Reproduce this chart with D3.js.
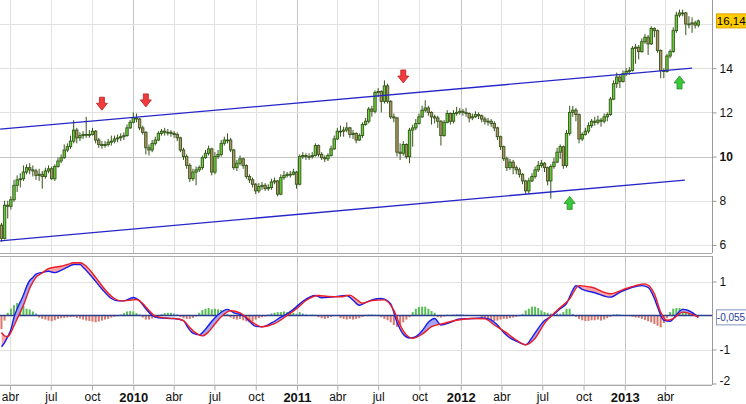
<!DOCTYPE html>
<html><head><meta charset="utf-8">
<script src="https://cdnjs.cloudflare.com/ajax/libs/d3/7.8.5/d3.min.js"></script>
<style>body{margin:0;background:#fff}svg{display:block;font-family:"Liberation Sans",Arial,sans-serif}</style>
</head><body><svg id="c" width="746" height="404"></svg>
<script>
// ---------- DATA (weekly candles, first week starting 13 Mar 2009) ----------
const startDate = new Date(2009, 2, 13);
const opens = [6.9,6.3,7.8,7.75,8.05,8.7,8.95,9.0,9.3,9.5,
9.4,9.35,9.15,9.2,9.1,9.35,9.45,9.0,9.55,9.8,
9.95,10.3,10.45,10.7,11.2,10.85,10.95,11.0,11.0,11.0,
11.15,10.75,10.55,10.5,10.55,10.65,10.7,10.8,10.85,10.9,
10.95,11.3,11.55,11.75,11.7,11.3,11.1,10.4,10.3,10.6,
10.75,11.05,11.15,11.1,11.1,11.05,11.0,10.85,10.3,10.0,
9.6,9.0,9.3,9.4,9.5,9.95,10.15,10.35,9.3,10.0,
10.1,10.6,10.75,10.75,10.3,9.5,9.7,9.9,9.6,9.1,
8.95,8.75,8.45,8.65,8.7,8.55,8.6,8.85,8.9,8.3,
9.05,9.15,9.2,9.2,9.3,8.75,10.0,10.05,10.0,10.0,
10.05,10.5,10.1,9.95,9.9,10.05,10.35,10.8,11.15,11.15,
11.2,11.3,11.0,11.05,10.75,10.95,11.45,11.6,12.15,12.05,
12.9,12.95,12.5,13.2,12.5,11.8,11.75,10.2,10.15,10.55,
10.0,11.2,11.3,11.5,11.8,12.1,12.2,12.0,11.8,11.75,
11.6,10.95,11.55,11.95,11.6,11.95,12.0,12.05,12.0,11.95,
11.75,11.8,11.9,11.85,11.7,11.6,11.6,11.5,11.3,10.9,
10.45,9.9,9.5,9.75,9.5,9.4,9.2,8.9,8.45,8.9,
9.1,9.4,9.6,9.7,9.5,8.9,9.55,9.75,10.2,10.45,
9.6,11.05,12.0,12.1,11.9,10.8,11.0,11.15,11.4,11.6,
11.55,11.65,11.6,11.8,11.9,12.6,13.3,13.6,13.4,13.75,
13.85,13.9,14.9,14.95,14.75,15.2,15.4,15.1,15.8,15.7,
14.8,13.9,13.85,14.55,14.75,15.7,16.4,16.5,16.5,16.0,
16.0,16.05,15.95];
const closes = [6.3,7.8,7.75,8.05,8.7,8.95,9.0,9.3,9.5,9.4,
9.35,9.15,9.2,9.1,9.35,9.45,9.0,9.55,9.8,9.95,
10.3,10.45,10.7,11.2,10.85,10.95,11.0,11.0,11.0,11.15,
10.75,10.55,10.5,10.55,10.65,10.7,10.8,10.85,10.9,10.95,
11.3,11.55,11.75,11.7,11.3,11.1,10.4,10.3,10.6,10.75,
11.05,11.15,11.1,11.1,11.05,11.0,10.85,10.3,10.0,9.6,
9.0,9.3,9.4,9.5,9.95,10.15,10.35,9.3,10.0,10.1,
10.6,10.75,10.75,10.3,9.5,9.7,9.9,9.6,9.1,8.95,
8.75,8.45,8.65,8.7,8.55,8.6,8.85,8.9,8.3,9.05,
9.15,9.2,9.2,9.3,8.75,10.0,10.05,10.0,10.0,10.05,
10.5,10.1,9.95,9.9,10.05,10.35,10.8,11.15,11.15,11.2,
11.3,11.0,11.05,10.75,10.95,11.45,11.6,12.15,12.05,12.9,
12.95,12.5,13.2,12.5,11.8,11.75,10.2,10.15,10.55,10.0,
11.2,11.3,11.5,11.8,12.1,12.2,12.0,11.8,11.75,11.6,
10.95,11.55,11.95,11.6,11.95,12.0,12.05,12.0,11.95,11.75,
11.8,11.9,11.85,11.7,11.6,11.6,11.5,11.3,10.9,10.45,
9.9,9.5,9.75,9.5,9.4,9.2,8.9,8.45,8.9,9.1,
9.4,9.6,9.7,9.5,8.9,9.55,9.75,10.2,10.45,9.6,
11.05,12.0,12.1,11.9,10.8,11.0,11.15,11.4,11.6,11.55,
11.65,11.6,11.8,11.9,12.6,13.3,13.6,13.4,13.75,13.85,
13.9,14.9,14.95,14.75,15.2,15.4,15.1,15.8,15.7,14.8,
13.9,13.85,14.55,14.75,15.7,16.4,16.5,16.5,16.0,16.0,
16.05,15.95,16.14];
const highs = [7.0,8.0,8.0,8.2,8.95,9.15,9.25,9.6,9.65,9.7,
9.6,9.45,9.45,9.35,9.5,9.6,9.55,9.65,9.95,10.1,
10.55,10.6,10.95,11.65,11.3,11.1,11.15,11.8,11.2,11.3,
11.2,10.85,10.7,10.7,10.8,10.95,10.95,11.0,11.05,11.1,
11.45,11.65,12.0,11.95,11.75,11.4,11.15,10.55,10.75,10.9,
11.15,11.25,11.3,11.25,11.2,11.15,11.1,10.9,10.4,10.1,
9.7,9.45,9.55,9.6,10.05,10.3,10.5,10.4,10.2,10.3,
10.75,10.9,11.05,10.85,10.35,9.85,10.05,9.95,9.65,9.2,
9.05,8.8,8.8,8.85,8.8,8.75,9.0,9.05,8.95,9.2,
9.35,9.3,9.35,9.45,9.35,10.1,10.2,10.15,10.15,10.2,
10.6,10.55,10.2,10.05,10.15,10.5,10.95,11.3,11.4,11.35,
11.55,11.35,11.2,11.1,11.05,11.55,11.75,12.25,12.3,13.0,
13.1,13.0,13.45,13.3,12.55,11.95,11.8,10.6,10.7,10.6,
11.3,11.45,11.7,11.95,12.3,12.55,12.3,12.05,11.9,11.85,
11.65,11.65,12.1,12.0,12.1,12.25,12.2,12.15,12.2,12.0,
11.95,12.05,12.0,11.9,11.8,11.75,11.7,11.6,11.35,10.95,
10.5,10.0,9.9,9.85,9.6,9.5,9.25,8.95,9.05,9.25,
9.55,9.8,9.85,9.75,9.55,9.65,9.95,10.4,10.55,10.5,
11.2,12.3,12.3,12.2,11.95,11.1,11.3,11.55,11.7,11.8,
11.85,11.75,11.95,12.0,12.7,13.45,13.8,13.7,13.9,14.0,
14.05,15.0,15.1,15.05,15.35,15.55,15.5,15.9,15.85,15.75,
14.85,14.0,14.65,14.85,15.85,16.55,16.65,16.65,16.55,16.35,
16.3,16.15,16.2];
const lows = [6.15,6.25,7.2,7.6,7.95,8.4,8.6,8.9,9.2,9.2,
9.1,8.95,8.9,8.55,9.0,9.25,8.95,8.9,9.5,9.7,
9.9,10.2,10.35,10.6,10.6,10.7,10.8,10.85,10.85,10.95,
10.6,10.4,10.35,10.4,10.45,10.5,10.6,10.65,10.7,10.75,
10.9,11.25,11.5,11.55,11.2,11.0,10.1,10.05,10.2,10.5,
10.7,10.95,10.95,10.95,10.9,10.85,10.7,10.2,9.85,9.45,
8.85,8.9,8.7,9.3,9.4,9.9,10.05,9.15,9.2,9.9,
10.0,10.5,10.6,10.2,9.4,9.35,9.6,9.45,9.0,8.8,
8.6,8.3,8.35,8.5,8.45,8.45,8.5,8.75,8.2,8.25,
8.95,9.05,9.05,9.15,8.55,8.7,9.9,9.85,9.85,9.9,
10.0,10.0,9.85,9.75,9.8,10.0,10.3,10.75,10.9,10.9,
11.1,10.85,10.8,10.6,10.7,10.85,11.4,11.5,11.8,11.95,
12.7,12.0,12.4,12.4,11.7,11.55,10.0,9.85,10.05,9.9,
9.7,10.45,11.2,11.45,11.75,12.0,11.85,11.45,11.5,11.3,
10.5,10.9,11.5,11.45,11.5,11.85,11.9,11.85,11.8,11.55,
11.65,11.75,11.7,11.55,11.45,11.4,11.35,11.15,10.75,10.3,
9.8,9.35,9.4,9.2,9.2,9.05,8.75,8.3,8.3,8.85,
9.0,9.3,9.5,9.3,8.7,8.1,9.45,9.7,9.9,9.45,
9.5,10.95,11.8,11.6,10.6,10.7,10.95,11.05,11.3,11.4,
11.45,11.35,11.5,11.6,11.85,12.55,13.1,13.1,13.35,13.65,
13.7,13.85,14.2,14.4,14.7,15.1,14.6,15.05,15.4,14.7,
13.55,13.55,13.8,14.45,14.7,15.6,16.3,16.35,15.5,15.8,
15.6,15.8,15.85];

// MACD (blue) and signal (red) read at these week indices
const macdIdx = [0,1,2,3,4,5,6,7,8,9,10,11,13,15,17,19,21,23,25,26,29,32,35,37,39,42,44,46,48,50,55,58,59,61,63,65,67,69,72,74,77,79,81,83,86,89,91,93,96,100,102,105,110,112,114,116,118,121,123,124,126,128,130,132,134,136,138,140,143,146,150,153,155,158,160,162,164,167,169,171,173,175,178,180,182,183,185,189,194,197,201,204,206,208,209,211,213,215,217,219,222];
const macdVal = [-0.92,-0.8,-0.62,-0.42,-0.05,0.2,0.4,0.6,0.85,1.03,1.12,1.22,1.27,1.3,1.26,1.33,1.42,1.5,1.5,1.42,1.12,0.78,0.5,0.43,0.43,0.53,0.43,0.2,0.0,-0.07,-0.09,-0.15,-0.3,-0.52,-0.57,-0.4,-0.17,0.02,0.18,0.08,0.0,-0.17,-0.32,-0.33,-0.22,-0.05,0.05,0.18,0.42,0.59,0.52,0.54,0.59,0.45,0.3,0.38,0.46,0.5,0.43,0.34,-0.2,-0.55,-0.66,-0.62,-0.45,-0.2,-0.09,-0.28,-0.2,-0.1,-0.09,-0.07,-0.09,-0.28,-0.5,-0.66,-0.75,-0.86,-0.65,-0.38,-0.15,-0.03,0.2,0.35,0.75,0.88,0.77,0.67,0.54,0.68,0.83,0.88,0.83,0.5,0.25,-0.14,-0.17,0.02,0.18,0.14,-0.055];
const sigIdx = [0,1,2,3,4,5,6,7,8,9,10,11,13,15,17,19,21,23,25,27,30,33,36,38,41,43,45,47,49,52,56,58,60,62,64,66,68,70,73,76,78,80,83,87,91,94,97,101,104,108,111,113,115,118,122,125,127,129,131,134,137,141,145,150,154,157,161,164,167,170,173,177,181,184,188,194,198,202,205,208,210,212,214,217,222];
const sigVal = [-0.5,-0.6,-0.62,-0.5,-0.3,-0.1,0.1,0.3,0.55,0.8,0.98,1.12,1.25,1.38,1.42,1.45,1.5,1.55,1.55,1.45,1.12,0.76,0.5,0.43,0.45,0.47,0.35,0.15,-0.02,-0.07,-0.1,-0.15,-0.35,-0.52,-0.6,-0.48,-0.25,-0.04,0.14,0.08,-0.05,-0.2,-0.33,-0.24,0.0,0.2,0.44,0.59,0.56,0.55,0.6,0.48,0.36,0.44,0.46,0.15,-0.28,-0.57,-0.67,-0.55,-0.33,-0.23,-0.14,-0.09,-0.1,-0.28,-0.52,-0.72,-0.86,-0.67,-0.23,0.15,0.49,0.88,0.83,0.64,0.76,0.88,0.93,0.64,0.1,-0.14,-0.09,0.1,-0.04];
// weekly histogram
const hist = [-0.4,-0.15,0.08,0.2,0.3,0.37,0.34,0.28,0.2,0.18,
0.12,0.06,-0.06,-0.1,-0.12,-0.15,-0.17,-0.14,-0.1,-0.08,
-0.07,-0.06,-0.05,-0.04,-0.07,-0.09,-0.12,-0.15,-0.16,-0.18,
-0.2,-0.18,-0.15,-0.12,-0.1,-0.06,-0.04,-0.02,0.03,0.07,
0.12,0.13,0.12,0.07,0.03,-0.06,-0.12,-0.12,-0.09,-0.06,
-0.03,0.04,0.07,0.08,0.08,0.06,0.03,-0.04,-0.08,-0.1,
-0.1,-0.07,-0.03,0.08,0.16,0.2,0.22,0.18,0.2,0.18,
0.16,0.12,0.05,-0.06,-0.1,-0.12,-0.1,-0.14,-0.17,-0.2,
-0.17,-0.12,-0.08,-0.05,-0.03,0.03,0.06,0.08,0.1,0.1,
0.12,0.1,0.11,0.08,0.05,0.1,0.06,0.03,0.02,0.03,
0.02,-0.05,-0.08,-0.1,-0.08,-0.04,-0.02,0.01,-0.08,-0.1,
-0.12,-0.1,-0.12,-0.1,-0.08,-0.04,0.02,0.03,0.03,0.02,
0.02,-0.05,-0.1,-0.14,-0.2,-0.28,-0.33,-0.3,-0.2,-0.12,
-0.05,0.1,0.2,0.25,0.26,0.26,0.2,0.13,0.08,-0.05,
-0.06,-0.03,0.02,0.02,0.03,0.04,0.04,0.03,0.02,0.01,
0.0,0.0,-0.02,-0.08,-0.1,-0.12,-0.14,-0.16,-0.15,-0.12,
-0.1,-0.1,-0.08,-0.06,-0.04,-0.02,0.05,0.15,0.2,0.26,
0.26,0.22,0.15,0.1,0.08,0.06,0.04,0.06,0.05,0.1,
0.2,0.2,0.05,-0.04,-0.1,-0.14,-0.16,-0.16,-0.14,-0.14,
-0.12,-0.15,-0.12,-0.08,-0.04,0.03,0.04,0.03,0.02,0.01,
-0.02,-0.04,-0.06,-0.07,-0.1,-0.13,-0.17,-0.2,-0.25,-0.3,
-0.35,-0.22,-0.08,0.1,0.2,0.22,0.22,0.2,0.15,0.08,
0.04,0.0,-0.02];

// channel lines
const upperDates = [new Date(2009,2,10), new Date(2013,4,31)];
const upperVals = [11.24, 14.0];
const lowerDates = [new Date(2009,2,10), new Date(2013,4,15)];
const lowerVals = [6.19, 8.94];
// signals (week index, price at arrow tip)
const sellIdx = [32, 46, 128];
const sellPrice = [12.1, 12.25, 13.33];
const buyIdx = [181, 216];
const buyPrice = [8.2, 13.65];

const priceTicks = [6, 8, 10, 12, 14, 16];
const priceLabelTicks = [6, 8, 10, 12, 14];
const macdTicks = [1, -1, -2];
const monthNames = ['ene','feb','mar','abr','may','jun','jul','ago','sep','oct','nov','dic'];
const lastPriceLabel = '16,14';
const lastMacdLabel = '-0,055';
const lastMacdValue = -0.055;

// ---------- CHART ----------
const svg = d3.select('#c');
const AX = 712;
const mainTop = 0, mainBot = 253, macdTop = 256, macdBot = 385;
const dates = closes.map((c, i) => d3.timeDay.offset(startDate, 7 * i));
const x = d3.scaleTime().domain([new Date(2010,0,1), new Date(2013,0,1)]).range([133.3, 624.8]);
const y = d3.scaleLinear().domain([6, 16]).range([245, 24]);
const ym = d3.scaleLinear().domain([-2, 1]).range([383.5, 281.5]);

const defs = svg.append('defs');
defs.append('clipPath').attr('id','mainClip').append('rect').attr('x',0).attr('y',mainTop).attr('width',AX).attr('height',mainBot-mainTop);
defs.append('clipPath').attr('id','macdClip').append('rect').attr('x',0).attr('y',macdTop).attr('width',AX).attr('height',macdBot-macdTop);

const tickDates = d3.timeMonth.every(3).range(new Date(2009,3,1), new Date(2013,4,1));

// vertical grid
const grid = svg.append('g');
tickDates.forEach(d => {
  const col = d.getMonth() === 0 ? '#c4c4c4' : '#e2e2e2';
  const xx = Math.round(x(d)) + 0.5;
  grid.append('line').attr('x1',xx).attr('x2',xx).attr('y1',mainTop).attr('y2',mainBot).attr('stroke',col);
  grid.append('line').attr('x1',xx).attr('x2',xx).attr('y1',macdTop).attr('y2',macdBot).attr('stroke',col);
});
// horizontal grid main
priceTicks.forEach(v => {
  const yy = Math.round(y(v)) + 0.5;
  grid.append('line').attr('x1',0).attr('x2',AX).attr('y1',yy).attr('y2',yy).attr('stroke', v===10 ? '#c4c4c4' : '#e2e2e2');
});
macdTicks.forEach(v => {
  const yy = Math.round(ym(v)) + 0.5;
  grid.append('line').attr('x1',0).attr('x2',AX).attr('y1',yy).attr('y2',yy).attr('stroke','#e2e2e2');
});

// candles
const cg = svg.append('g').attr('clip-path','url(#mainClip)');
const candles = closes.map((c,i)=>({d:dates[i],o:opens[i],h:highs[i],l:lows[i],c:c}));
cg.selectAll('line.wick').data(candles).join('line')
  .attr('x1',d=>x(d.d)).attr('x2',d=>x(d.d))
  .attr('y1',d=>y(d.h)).attr('y2',d=>y(d.l))
  .attr('stroke','#36541a').attr('stroke-width',1);
cg.selectAll('rect.body').data(candles).join('rect')
  .attr('x',d=>x(d.d)-1.2).attr('width',2.4)
  .attr('y',d=>y(Math.max(d.o,d.c)))
  .attr('height',d=>Math.max(0.8, Math.abs(y(d.o)-y(d.c))))
  .attr('fill',d=>d.c>=d.o ? '#6acd3c' : '#b39067')
  .attr('stroke','#34561a').attr('stroke-width',0.9);

// channel lines
const chLine = d3.line().x(d=>x(d[0])).y(d=>y(d[1]));
cg.append('path').attr('d',chLine(upperDates.map((d,i)=>[d,upperVals[i]]))).attr('stroke','#2626c8').attr('stroke-width',1.3).attr('fill','none');
cg.append('path').attr('d',chLine(lowerDates.map((d,i)=>[d,lowerVals[i]]))).attr('stroke','#2626c8').attr('stroke-width',1.3).attr('fill','none');

// arrows
function downArrow(cx, tip){
  const t = tip - 13;
  return `M${cx-2.5},${t}L${cx+2.5},${t}L${cx+2.5},${t+6}L${cx+5.5},${t+6}L${cx},${tip}L${cx-5.5},${t+6}L${cx-2.5},${t+6}Z`;
}
function upArrow(cx, tip){
  const b = tip + 13;
  return `M${cx-2.5},${b}L${cx+2.5},${b}L${cx+2.5},${b-6}L${cx+5.5},${b-6}L${cx},${tip}L${cx-5.5},${b-6}L${cx-2.5},${b-6}Z`;
}
sellIdx.forEach((k,j)=>{
  svg.append('path').attr('d',downArrow(x(dates[k]), y(sellPrice[j]))).attr('fill','#f03c3c').attr('stroke','#b82020').attr('stroke-width',0.8);
});
buyIdx.forEach((k,j)=>{
  svg.append('path').attr('d',upArrow(x(dates[k]), y(buyPrice[j]))).attr('fill','#3cc83c').attr('stroke','#1e8c1e').attr('stroke-width',0.8);
});

// MACD panel
const mg = svg.append('g').attr('clip-path','url(#macdClip)');
const z0 = ym(0);
mg.selectAll('rect.hist').data(hist.map((v,i)=>({d:dates[i],v:v}))).join('rect')
  .attr('x',d=>x(d.d)-1).attr('width',2)
  .attr('y',d=>Math.min(ym(d.v), z0)).attr('height',d=>Math.abs(ym(d.v)-z0))
  .attr('fill',d=>d.v<0 ? '#d8776d' : (d.v>0.06 ? '#58be58' : '#6c9bd8'));
mg.append('line').attr('x1',0).attr('x2',AX).attr('y1',z0).attr('y2',z0).attr('stroke','#2a3d8c').attr('stroke-width',1.5);

const macdPts = macdIdx.map((k,j)=>({d:dates[k], v:macdVal[j]}));
const sigPts = sigIdx.map((k,j)=>({d:dates[k], v:sigVal[j]}));
const curve = d3.curveMonotoneX;
const ln = d3.line().x(p=>x(p.d)).y(p=>ym(p.v)).curve(curve);
const toTop = d3.area().x(p=>x(p.d)).y0(macdTop).y1(p=>ym(p.v)).curve(curve);
const toBot = d3.area().x(p=>x(p.d)).y0(macdBot).y1(p=>ym(p.v)).curve(curve);
defs.append('clipPath').attr('id','sigTop').append('path').attr('d',toTop(sigPts));
defs.append('clipPath').attr('id','sigBot').append('path').attr('d',toBot(sigPts));
mg.append('g').attr('clip-path','url(#sigTop)').append('path').attr('d',toBot(macdPts)).attr('fill','#a4a6f4');
mg.append('g').attr('clip-path','url(#sigBot)').append('path').attr('d',toTop(macdPts)).attr('fill','#f6a4a8');
mg.append('path').attr('d',ln(macdPts)).attr('fill','none').attr('stroke','#1c1ce8').attr('stroke-width',1.4);
mg.append('path').attr('d',ln(sigPts)).attr('fill','none').attr('stroke','#ea1c24').attr('stroke-width',1.4);

// frame lines
svg.append('line').attr('x1',0).attr('x2',AX).attr('y1',mainBot+0.5).attr('y2',mainBot+0.5).attr('stroke','#aaa');
svg.append('line').attr('x1',0).attr('x2',AX).attr('y1',macdTop+0.5).attr('y2',macdTop+0.5).attr('stroke','#aaa');
svg.append('line').attr('x1',0).attr('x2',AX).attr('y1',macdBot+0.5).attr('y2',macdBot+0.5).attr('stroke','#aaa');
svg.append('line').attr('x1',AX+0.5).attr('x2',AX+0.5).attr('y1',mainTop).attr('y2',mainBot).attr('stroke','#999');
svg.append('line').attr('x1',AX+0.5).attr('x2',AX+0.5).attr('y1',macdTop).attr('y2',macdBot).attr('stroke','#999');

// right price axis
const pAxis = svg.append('g').attr('transform',`translate(${AX+0.5},0)`)
  .call(d3.axisRight(y).tickValues(priceLabelTicks).tickSize(4).tickSizeOuter(0).tickFormat(d=>String(d)));
pAxis.select('.domain').remove();
pAxis.selectAll('line').attr('stroke','#999');
pAxis.selectAll('text').attr('font-size',12).attr('fill','#111').attr('font-family','"Liberation Sans",Arial,sans-serif')
  .attr('font-weight',d=>d===10?'bold':'normal');

// right macd axis
const mAxis = svg.append('g').attr('transform',`translate(${AX+0.5},0)`)
  .call(d3.axisRight(ym).tickValues(macdTicks).tickSize(4).tickSizeOuter(0).tickFormat(d=>String(d)));
mAxis.select('.domain').remove();
mAxis.selectAll('line').attr('stroke','#999');
mAxis.selectAll('text').attr('font-size',12).attr('fill','#111').attr('font-family','"Liberation Sans",Arial,sans-serif');
mAxis.selectAll('.tick').filter(d=>d===-2).select('text').attr('dy','0.05em');

// last price box
const lpY = y(closes[closes.length-1]);
svg.append('rect').attr('x',716.5).attr('y',lpY-7).attr('width',32).attr('height',14).attr('fill','#ffcc00').attr('stroke','#d9a400');
svg.append('text').attr('x',716.8).attr('y',lpY).attr('dy','0.35em').attr('font-size',11.5).attr('fill','#000').text(lastPriceLabel);
// last macd box
const lmY = ym(lastMacdValue);
svg.append('rect').attr('x',716.5).attr('y',lmY-7.5).attr('width',34).attr('height',15).attr('fill','#fff').attr('stroke','#8494c4');
svg.append('text').attr('x',716.8).attr('y',lmY).attr('dy','0.35em').attr('font-size',10).attr('fill','#2a3aa0').text(lastMacdLabel);

// bottom axis
const xAxis = svg.append('g').attr('transform',`translate(0,${macdBot+0.5})`)
  .call(d3.axisBottom(x).tickValues(tickDates).tickSize(5).tickPadding(2).tickSizeOuter(0)
    .tickFormat(d=>d.getMonth()===0 ? String(d.getFullYear()) : monthNames[d.getMonth()]));
xAxis.select('.domain').remove();
xAxis.selectAll('line').attr('stroke','#aaa');
xAxis.selectAll('text').attr('fill','#111').attr('font-family','"Liberation Sans",Arial,sans-serif')
  .attr('font-size',d=>d.getMonth()===0?13:12)
  .attr('font-weight',d=>d.getMonth()===0?'bold':'normal');
</script>
</body></html>
